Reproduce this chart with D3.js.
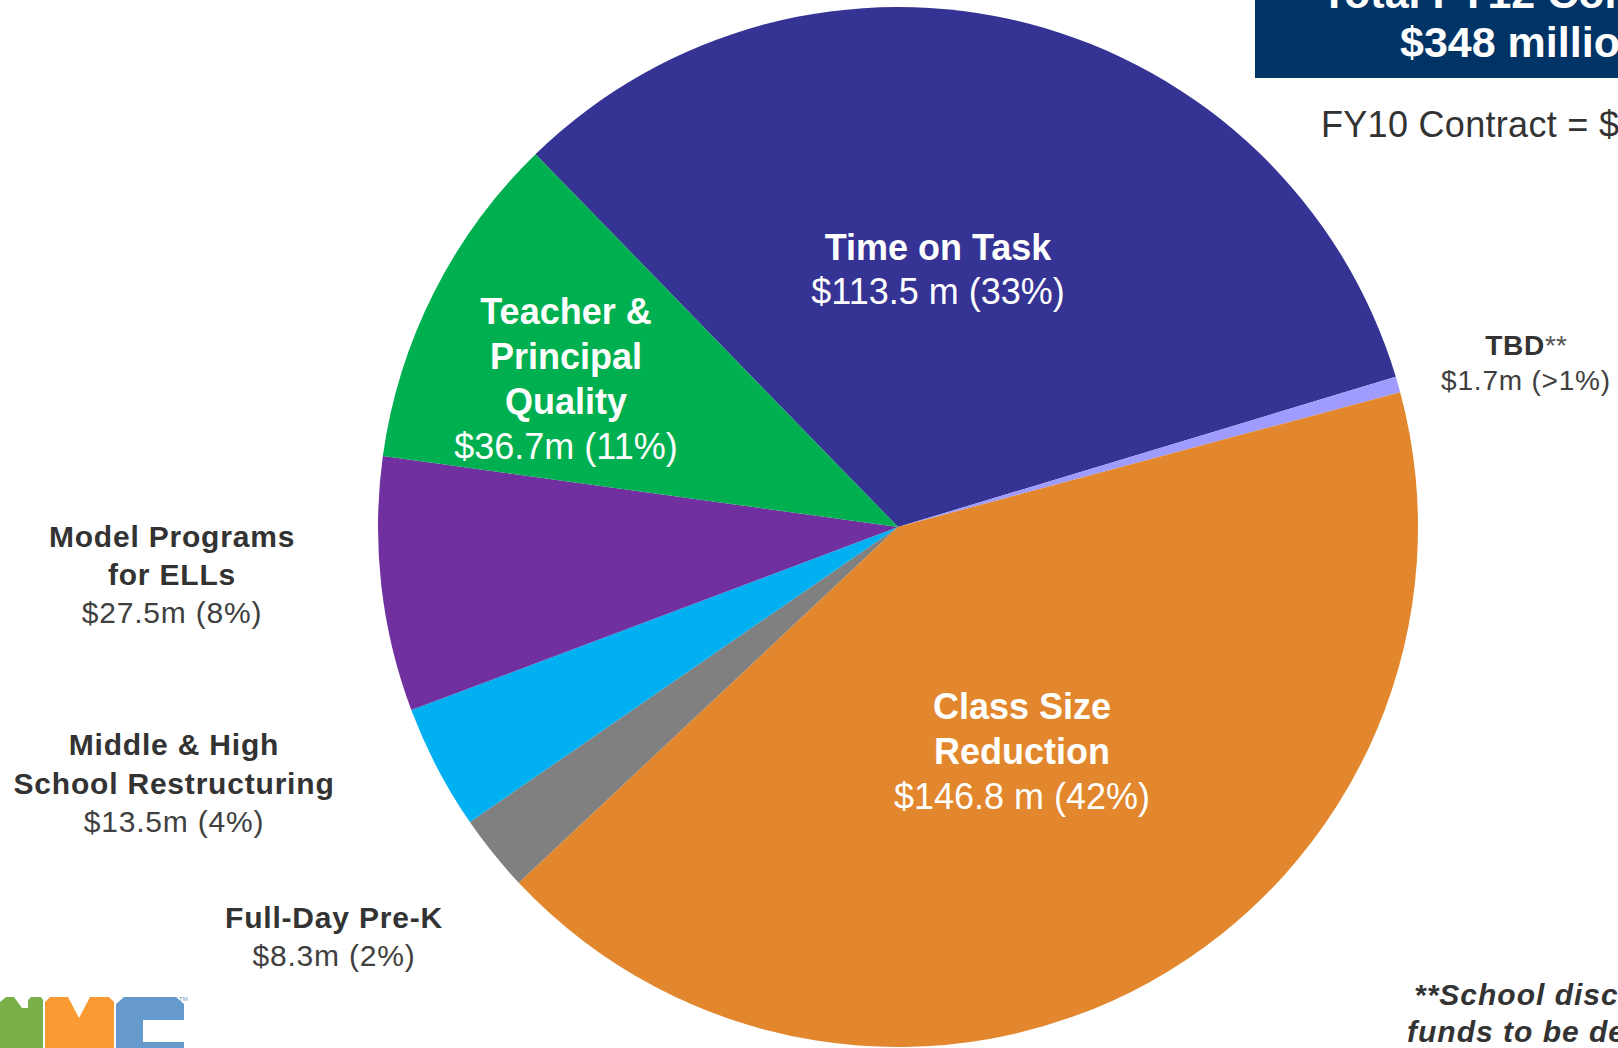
<!DOCTYPE html>
<html>
<head>
<meta charset="utf-8">
<script src="https://cdn.jsdelivr.net/npm/d3@7"></script>
<style>
  html, body { margin: 0; padding: 0; background: #fff; overflow: hidden; }
  svg { display: block; font-family: "Liberation Sans", Arial, sans-serif; }
</style>
</head>
<body>
<svg id="chart"></svg>
<script>
// ---- data ----
const categories = [
    "Time on Task",
    "TBD**",
    "Class Size Reduction",
    "Full-Day Pre-K",
    "Middle & High School Restructuring",
    "Model Programs for ELLs",
    "Teacher & Principal Quality"
];
const amounts = [113.5, 1.7, 146.8, 8.3, 13.5, 27.5, 36.7];
const valueLabels = [
    "$113.5 m (33%)", "$1.7m (>1%)", "$146.8 m (42%)", "$8.3m (2%)",
    "$13.5m (4%)", "$27.5m (8%)", "$36.7m (11%)"
];
const colors = ["#353394", "#a09cff", "#e2872d", "#808080", "#00b0f0", "#7030a0", "#00b050"];

const titleLines = ["Total FY12 Contract", "$348 million"];
const subTitle = "FY10 Contract = $";
const footnoteLines = ["**School discretionary", "funds to be determined"];

// ---- layout ----
const width = 1618, height = 1048;
const cx = 898, cy = 527, radius = 520;
const startDeg = -44.2;

// label layout: name lines (bold), then value line; x = center, y = first baseline
const labelLayout = {
    "Time on Task":                       { lines: ["Time on Task"], x: 938, y: 260, lh: 44, size: 36, inside: true },
    "Class Size Reduction":               { lines: ["Class Size", "Reduction"], x: 1022, y: 719, lh: 45, size: 36, inside: true },
    "Teacher & Principal Quality":        { lines: ["Teacher &", "Principal", "Quality"], x: 566, y: 324, lh: 45, size: 36, inside: true },
    "Model Programs for ELLs":            { lines: ["Model Programs", "for ELLs"], x: 172, y: 547, lh: 38, size: 30 },
    "Middle & High School Restructuring": { lines: ["Middle & High", "School Restructuring"], x: 174, y: 755, lh: 38.5, size: 30 },
    "Full-Day Pre-K":                     { lines: ["Full-Day Pre-K"], x: 334, y: 928, lh: 38, size: 30 },
    "TBD**":                              { lines: ["TBD"], star: "**", x: 1526, y: 355, lh: 35, size: 28 }
};

const svg = d3.select("#chart")
    .attr("width", width)
    .attr("height", height);

// ---- pie ----
const data = categories.map((c, i) => ({ name: c, value: amounts[i], label: valueLabels[i], color: colors[i] }));

const start = startDeg * Math.PI / 180;
const pie = d3.pie()
    .sort(null)
    .value(d => d.value)
    .startAngle(start)
    .endAngle(start + 2 * Math.PI);

const arc = d3.arc().innerRadius(0).outerRadius(radius);

const g = svg.append("g").attr("transform", `translate(${cx},${cy})`);
g.selectAll("path")
    .data(pie(data))
    .enter()
    .append("path")
    .attr("d", arc)
    .attr("fill", d => d.data.color);

// ---- labels ----
data.forEach(d => {
    const L = labelLayout[d.name];
    const fill = L.inside ? "#ffffff" : "#333333";
    const t = svg.append("text")
        .attr("text-anchor", "middle")
        .attr("fill", fill)
        .attr("font-size", L.size + "px");
    L.lines.forEach((line, i) => {
        t.append("tspan")
            .attr("x", L.x)
            .attr("y", L.y + i * L.lh)
            .attr("font-weight", "bold")
            .attr("letter-spacing", L.inside ? 0 : 0.8)
            .text(line);
        if (L.star && i === L.lines.length - 1) {
            t.append("tspan").attr("font-weight", "normal").attr("fill", "#555").text(L.star);
        }
    });
    t.append("tspan")
        .attr("x", L.x)
        .attr("y", L.y + L.lines.length * L.lh)
        .attr("font-weight", "normal")
        .attr("fill", L.inside ? "#ffffff" : "#404040")
        .attr("letter-spacing", L.inside ? 0 : 0.8)
        .text(d.label);
});

// ---- title box ----
svg.append("rect")
    .attr("x", 1255).attr("y", 0)
    .attr("width", width - 1255).attr("height", 78)
    .attr("fill", "#003366");

svg.append("text")
    .attr("x", 1321).attr("y", 8)
    .attr("fill", "#fff").attr("font-weight", "bold").attr("font-size", "43px")
    .text(titleLines[0]);
svg.append("text")
    .attr("x", 1400).attr("y", 57)
    .attr("fill", "#fff").attr("font-weight", "bold").attr("font-size", "43px")
    .text(titleLines[1]);

svg.append("text")
    .attr("x", 1321).attr("y", 137)
    .attr("fill", "#333").attr("font-size", "36px")
    .attr("letter-spacing", 0.3)
    .text(subTitle);

// ---- footnote ----
footnoteLines.forEach((line, i) => {
    svg.append("text")
        .attr("x", i === 0 ? 1414 : 1407)
        .attr("y", 1005 + i * 37)
        .attr("fill", "#333")
        .attr("font-weight", "bold")
        .attr("font-style", "italic")
        .attr("font-size", "30px")
        .attr("letter-spacing", 1)
        .text(line);
});

// ---- NYC logo (bottom left, partly cut) ----
const logo = svg.append("g");
// N
logo.append("path")
    .attr("d", "M0,1002 L6,997 L14,997 L22,1008 L28,1008 L28,1000 L31,997 L41,997 L43,1000 L43,1048 L0,1048 Z")
    .attr("fill", "#7ab04a");
// Y
logo.append("path")
    .attr("d", "M45,1002 L50,997 L68,997 L79,1018 L90,997 L109,997 L114,1002 L114,1048 L45,1048 Z")
    .attr("fill", "#f99b32");
// C
logo.append("path")
    .attr("d", "M116,1004 L124,997 L176,997 L184,1004 L184,1020 L143,1020 L143,1042 L184,1042 L184,1048 L116,1048 Z")
    .attr("fill", "#6699cc");
logo.append("text")
    .attr("x", 179).attr("y", 1001)
    .attr("font-size", "6px").attr("fill", "#6699cc")
    .text("TM");
</script>
</body>
</html>
